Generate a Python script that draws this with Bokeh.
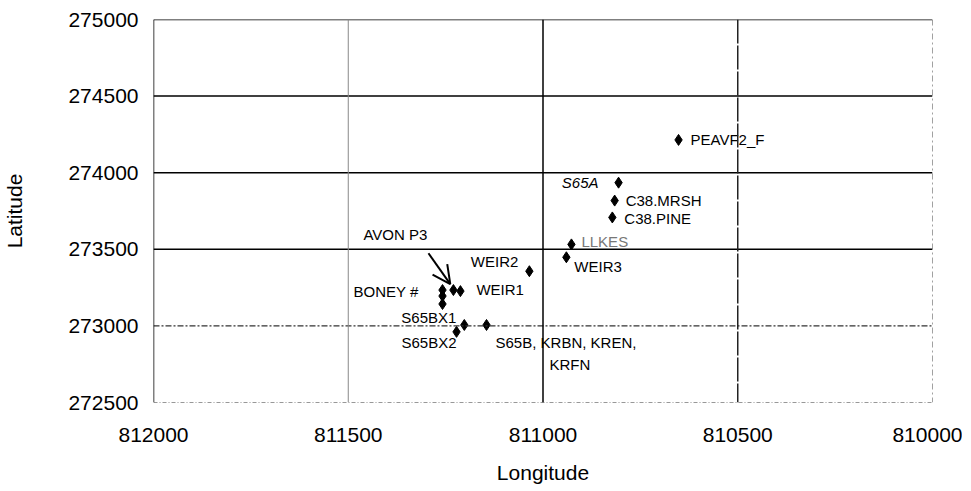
from bokeh.plotting import figure
from bokeh.models import Range1d, FixedTicker, Span, Arrow, OpenHead, ColumnDataSource, NumeralTickFormatter
from bokeh.core.properties import value
from bokeh.embed import file_html
from bokeh.resources import INLINE

# ---- data ----
stations = ["PEAVF2_F", "S65A", "C38.MRSH", "C38.PINE", "LLKES", "WEIR3", "WEIR2",
            "WEIR1", "AVON P3", "BONEY #", "BONEY #b", "BONEY #c", "S65BX1", "S65BX2", "S65B"]
lon = [810652, 810806, 810816, 810822, 810927, 810940, 811035,
       811212, 811230, 811258, 811258, 811258, 811202, 811222, 811145]
lat = [274214, 273935, 273818, 273708, 273532, 273448, 273357,
       273227, 273234, 273234, 273195, 273143, 273006, 272961, 273006]

x_ticks = [812000, 811500, 811000, 810500, 810000]
y_ticks = [272500, 273000, 273500, 274000, 274500, 275000]

# labels: text, anchor station index
label_text = ["PEAVF2_F", "S65A", "C38.MRSH", "C38.PINE", "LLKES", "WEIR3", "WEIR2",
              "WEIR1", "AVON P3", "BONEY #", "S65BX1", "S65BX2", "S65B, KRBN, KREN,", "KRFN"]
label_anchor = [0, 1, 2, 3, 4, 5, 6, 7, 8, 9, 12, 13, 14, 14]
# layout of labels (pixel offsets from anchor point)
label_dx = [12, -20, 11, 12, 10, 8, -11, 16, -90, -24, -8, 0, 9, 63]
label_dy = [0, 0, 0, 1, -3, 9, -10, -2, -56, 1, -7, 11, 18, 40]
label_align = ["left", "right", "left", "left", "left", "left", "right",
               "left", "left", "right", "right", "right", "left", "left"]
label_style = ["normal", "italic"] + ["normal"] * 12
label_color = ["black"] * 4 + ["#777777"] + ["black"] * 9

FONT = "Liberation Sans"

p = figure(frame_width=779, frame_height=383, output_backend="svg", toolbar_location=None,
           x_range=Range1d(812000, 810000), y_range=Range1d(272500, 275000),
           min_border_left=152, min_border_right=30, min_border_top=19, min_border_bottom=60)
p.outline_line_color = None
p.xgrid.visible = False
p.ygrid.visible = False

for ax in (p.xaxis, p.yaxis):
    ax.axis_line_color = None
    ax.major_tick_line_color = None
    ax.minor_tick_line_color = None
    ax.major_tick_out = 0
    ax.major_tick_in = 0
    ax.minor_tick_out = 0
    ax.minor_tick_in = 0
    ax.major_label_text_font = FONT
    ax.major_label_text_font_size = "21px"
    ax.major_label_text_color = "black"
    ax.axis_label_text_font = FONT
    ax.axis_label_text_font_size = "21px"
    ax.axis_label_text_font_style = "normal"
    ax.axis_label_text_color = "black"
    ax.formatter = NumeralTickFormatter(format="0")

p.xaxis.ticker = FixedTicker(ticks=x_ticks)
p.yaxis.ticker = FixedTicker(ticks=y_ticks)
p.xaxis.axis_label = "Longitude"
p.yaxis.axis_label = "Latitude"
p.xaxis.major_label_standoff = 25
p.xaxis.axis_label_standoff = 16
p.yaxis.major_label_standoff = 15
p.yaxis.axis_label_standoff = 39

# grid lines (styled individually, as in the reference)
h_styles = {275000: ("black", 1.5, "solid"), 274500: ("black", 1.5, "solid"),
            274000: ("black", 1.5, "solid"), 273500: ("black", 1.5, "solid"),
            273000: ("#333333", 1.2, "6 2 2 2"), 272500: ("#333333", 1.2, "4 2 1 2")}
for yv in y_ticks:
    c, w, d = h_styles[yv]
    p.add_layout(Span(location=yv, dimension="width", line_color=c, line_width=w, line_dash=d))
v_styles = {812000: ("black", 1.5, "solid"), 811500: ("#888888", 1, "solid"),
            811000: ("black", 1.5, "solid"), 810500: ("#222222", 1.5, "24 2"),
            810000: ("#444444", 1, "6 3 2 3")}
for xv in x_ticks:
    c, w, d = v_styles[xv]
    p.add_layout(Span(location=xv, dimension="height", line_color=c, line_width=w, line_dash=d))

# points
p.scatter(x=lon, y=lat, marker="diamond", size=11, color="black")

# labels
src = ColumnDataSource(dict(
    x=[lon[i] for i in label_anchor], y=[lat[i] for i in label_anchor],
    text=label_text, dx=label_dx, dy=label_dy, align=label_align,
    style=label_style, color=label_color))
p.text(x="x", y="y", text="text", x_offset="dx", y_offset="dy", source=src,
       text_align="align", text_baseline="middle", text_font=value(FONT),
       text_font_size="15px", text_font_style="style", text_color="color")

# arrow from "AVON P3" label to its point
ai = stations.index("AVON P3")
p.add_layout(Arrow(x_start=lon[ai] + 64, y_start=lat[ai] + 240,
                   x_end=lon[ai] + 8, y_end=lat[ai] + 39,
                   line_color="black", line_width=2,
                   end=OpenHead(size=18, line_color="black", line_width=2)))

open("out.html", "w").write(file_html(p, INLINE))
